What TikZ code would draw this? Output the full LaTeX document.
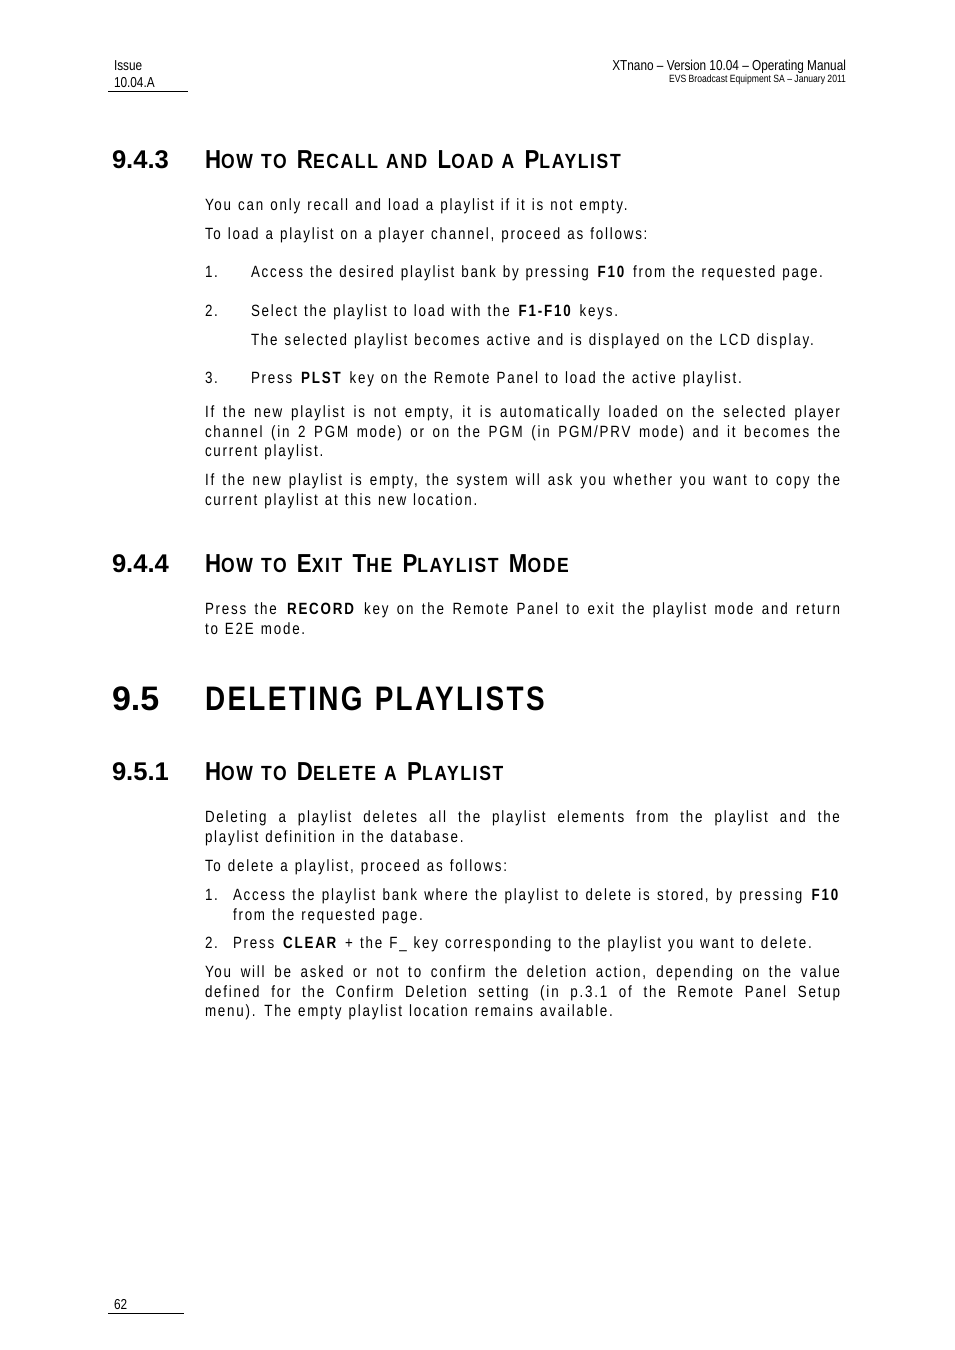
\documentclass[tikz,border=0pt]{standalone}
\usepackage{fontspec}
\setmainfont{Liberation Sans}
\newfontfamily\bodyf[FakeStretch=0.82,LetterSpace=11,WordSpace=1.28]{Liberation Sans}
\newfontfamily\headtitf[FakeStretch=0.855,LetterSpace=8,WordSpace=1.25]{Liberation Sans}
\newfontfamily\bigtitf[FakeStretch=0.82,LetterSpace=7,WordSpace=1.2]{Liberation Sans}
\newfontfamily\hdrf[FakeStretch=0.82]{Liberation Sans}
\newcommand\mysc[1]{{\fontsize{20.5}{21}\selectfont #1}}
\hyphenpenalty=10000
\exhyphenpenalty=10000
\tikzset{
  txt/.style={anchor=base west, inner sep=0pt, outer sep=0pt},
  body/.style={txt, font=\bodyf\fontsize{16.3}{19.5}\selectfont},
  para/.style={body, text width=635pt, align=justify},
  hdr/.style={txt, font=\hdrf\fontsize{14.4}{17}\selectfont},
  hdrr/.style={anchor=base east, inner sep=0pt, outer sep=0pt, font=\hdrf\fontsize{14.4}{17}\selectfont},
  hdrs/.style={anchor=base east, inner sep=0pt, outer sep=0pt, font=\hdrf\fontsize{10.5}{12}\selectfont},
  hnum/.style={txt, font=\fontsize{25.6}{28}\selectfont\bfseries},
  htit/.style={txt, font=\headtitf\fontsize{26}{28}\selectfont\bfseries},
  bnum/.style={txt, font=\fontsize{34}{38}\selectfont\bfseries},
  btit/.style={txt, font=\bigtitf\fontsize{34}{38}\selectfont\bfseries},
  rule/.style={line width=1.2pt, black}
}
\begin{document}
\begin{tikzpicture}[x=1pt,y=-1pt]
\fill[white] (0,0) rectangle (954,1350);
\useasboundingbox (0,0) rectangle (954,1350);

% header
\node[hdr] (iss) at (114,70) {Issue};
\node[hdr] (ver) at (114,87) {10.04.A};
\draw[rule] (108,91.5) -- (188,91.5);
\node[hdrr] (man) at (846,70) {XTnano – Version 10.04 – Operating Manual};
\node[hdrs] (evs) at (846,82) {EVS Broadcast Equipment SA – January 2011};

% 9.4.3
\node[hnum] (h1n) at (112,168.5) {9.4.3};
\node[htit] (h1t) at (205,168.5) {H\mysc{OW TO} R\mysc{ECALL AND} L\mysc{OAD A} P\mysc{LAYLIST}};
\node[body] (p1) at (205,210.5) {You can only recall and load a playlist if it is not empty.};
\node[body] (p2) at (205,239.5) {To load a playlist on a player channel, proceed as follows:};
\node[body] (l1n) at (205,277.5) {1.};
\node[body] (l1t) at (251,277.5) {Access the desired playlist bank by pressing \textbf{F10} from the requested page.};
\node[body] (l2n) at (205,316.5) {2.};
\node[body] (l2t) at (251,316.5) {Select the playlist to load with the \textbf{F1-F10} keys.};
\node[body] (l2s) at (251,345.5) {The selected playlist becomes active and is displayed on the LCD display.};
\node[body] (l3n) at (205,383.5) {3.};
\node[body] (l3t) at (251,383.5) {Press \textbf{PLST} key on the Remote Panel to load the active playlist.};
\node[para] (p3) at (205,417.5) {If the new playlist is not empty, it is automatically loaded on the selected player\linebreak channel (in 2 PGM mode) or on the PGM (in PGM/PRV mode) and it becomes the\linebreak current playlist.};
\node[para] (p4) at (205,485.5) {If the new playlist is empty, the system will ask you whether you want to copy the\linebreak current playlist at this new location.};

% 9.4.4
\node[hnum] (h2n) at (112,572.5) {9.4.4};
\node[htit] (h2t) at (205,572.5) {H\mysc{OW TO} E\mysc{XIT} T\mysc{HE} P\mysc{LAYLIST} M\mysc{ODE}};
\node[para] (p5) at (205,614.5) {Press the \textbf{RECORD} key on the Remote Panel to exit the playlist mode and return\linebreak to E2E mode.};

% 9.5
\node[bnum] (h3n) at (112,710) {9.5};
\node[btit] (h3t) at (205,710) {DELETING PLAYLISTS};

% 9.5.1
\node[hnum] (h4n) at (112,780.5) {9.5.1};
\node[htit] (h4t) at (205,780.5) {H\mysc{OW TO} D\mysc{ELETE A} P\mysc{LAYLIST}};
\node[para] (p6) at (205,822.5) {Deleting a playlist deletes all the playlist elements from the playlist and the\linebreak playlist definition in the database.};
\node[body] (p7) at (205,871.5) {To delete a playlist, proceed as follows:};
\node[body] (m1n) at (205,900.5) {1.};
\node[body, text width=607pt, align=justify] (m1t) at (233,900.5) {Access the playlist bank where the playlist to delete is stored, by pressing \textbf{F10}\linebreak from the requested page.};
\node[body] (m2n) at (205,948.5) {2.};
\node[body] (m2t) at (233,948.5) {Press \textbf{CLEAR} + the F\_ key corresponding to the playlist you want to delete.};
\node[para] (p8) at (205,977.5) {You will be asked or not to confirm the deletion action, depending on the value\linebreak defined for the Confirm Deletion setting (in p.3.1 of the Remote Panel Setup\linebreak menu). The empty playlist location remains available.};

% footer
\node[hdr] (pg) at (114,1309) {62};
\draw[rule] (108,1313.5) -- (184,1313.5);
\end{tikzpicture}
\end{document}
